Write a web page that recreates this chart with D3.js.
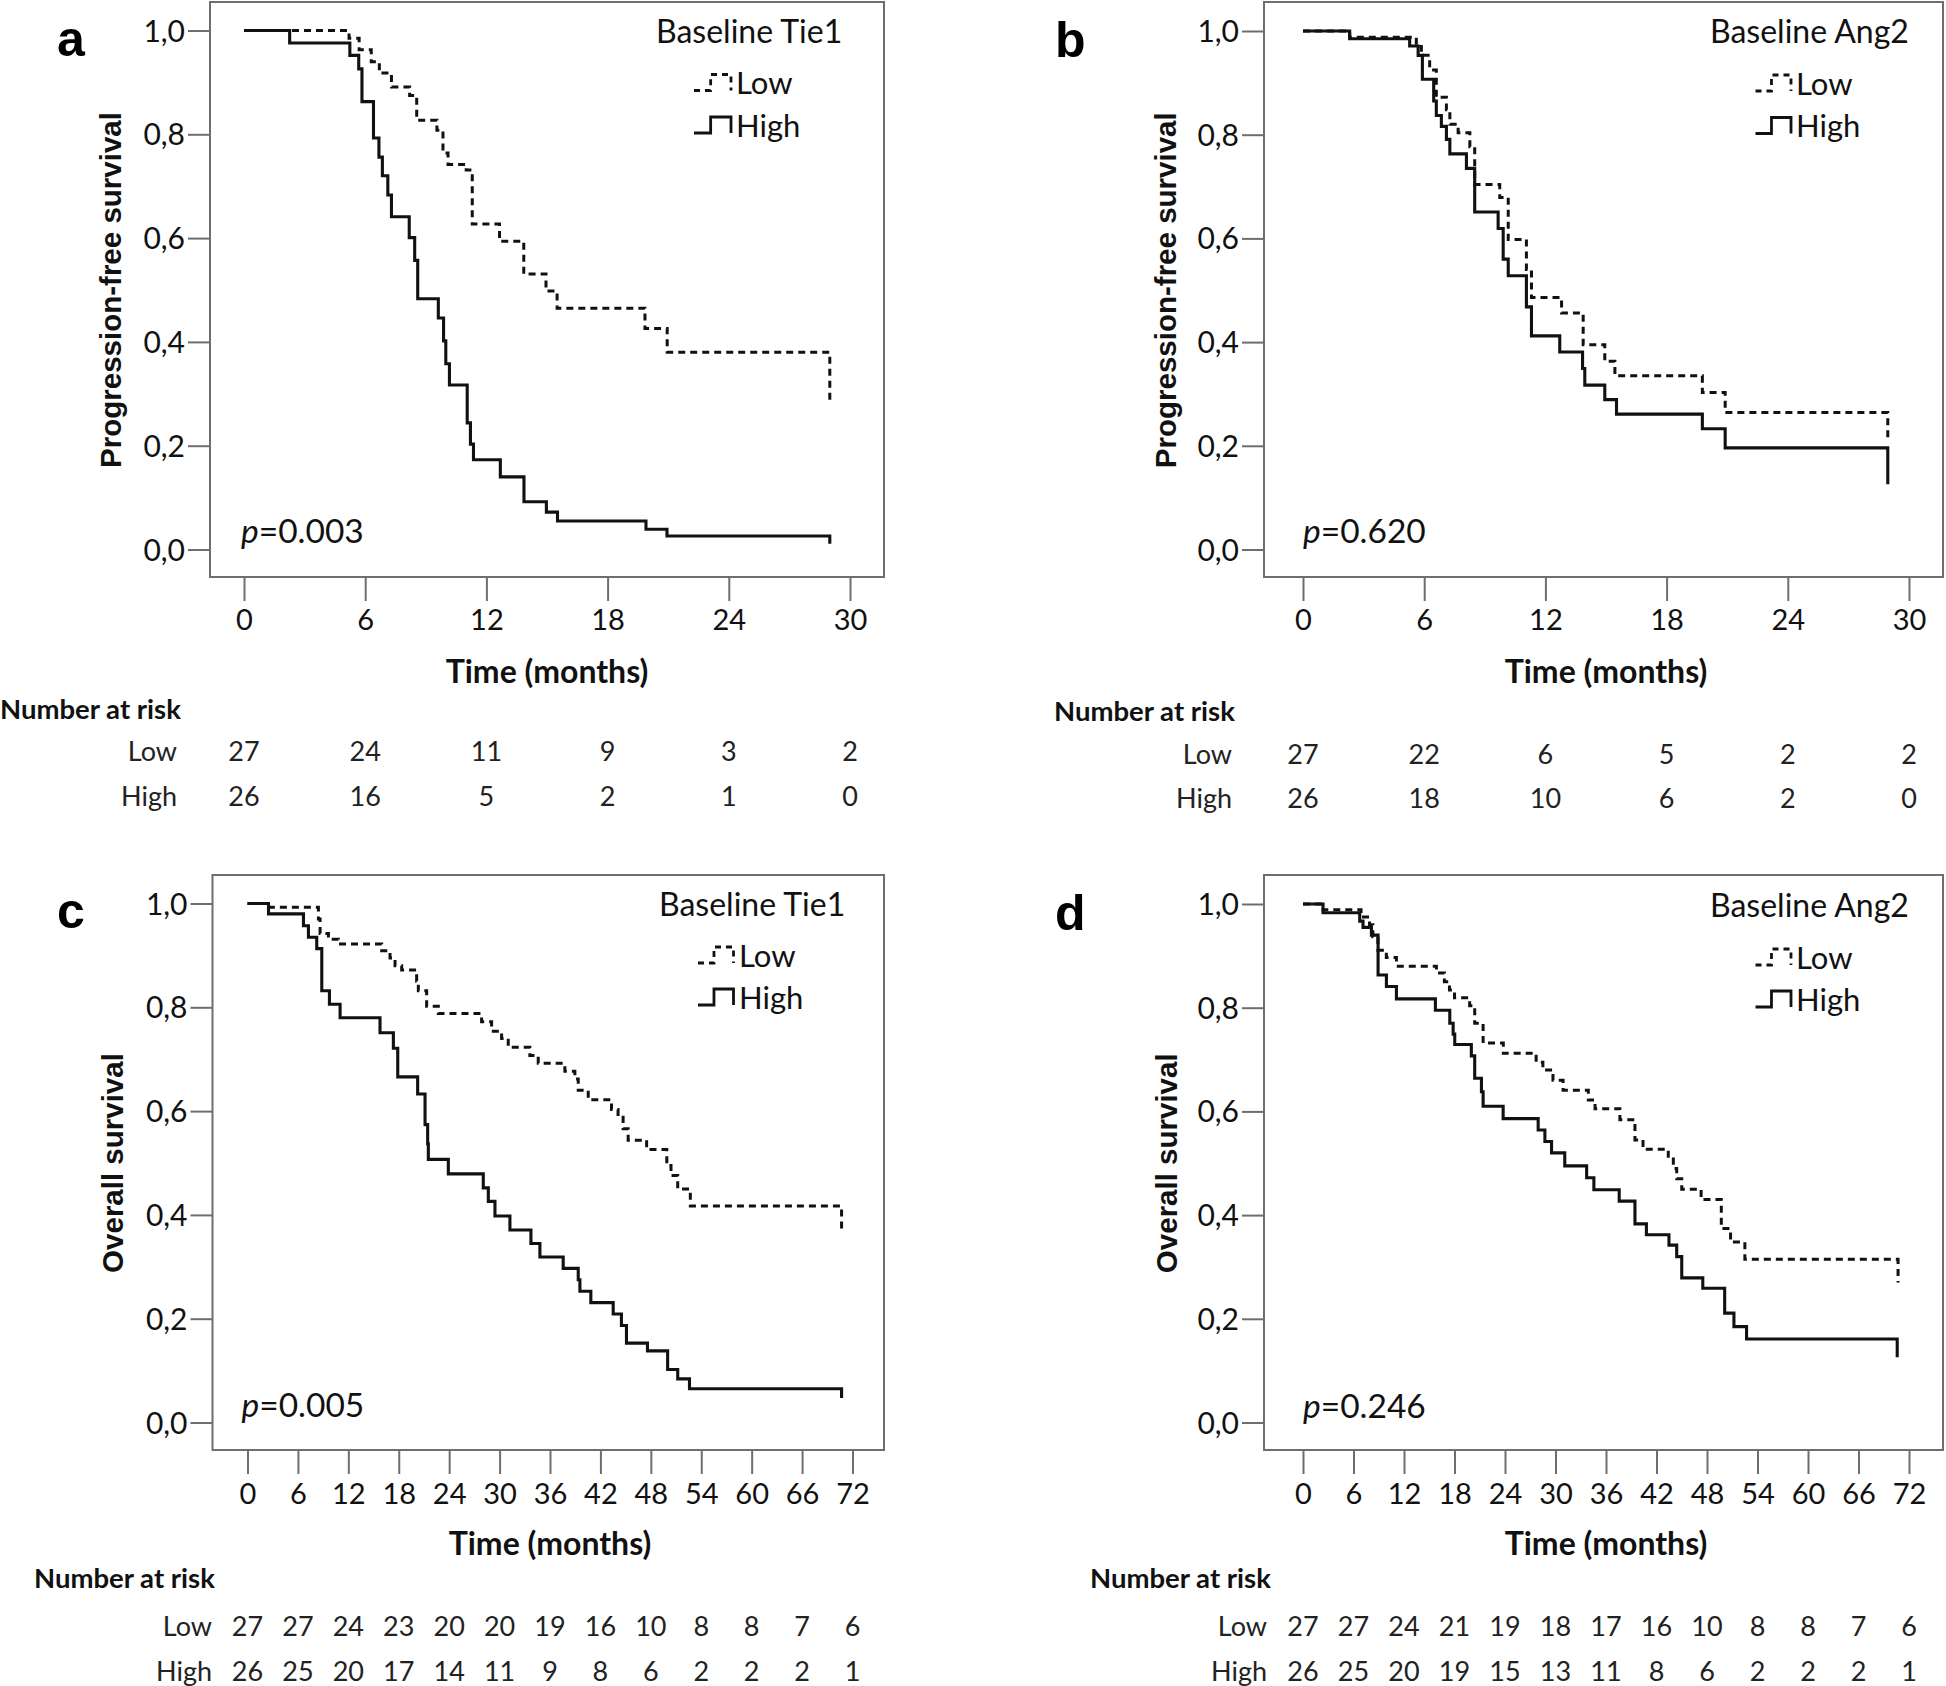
<!DOCTYPE html>
<html><head><meta charset="utf-8">
<script src="https://cdn.jsdelivr.net/npm/d3@7"></script>
<style>body{margin:0;background:#fff} svg{display:block}</style>
</head><body><svg id="chart" width="1946" height="1686"></svg>
<script>
// ---------- DATA ----------
const pfsTimeTicks = [0, 6, 12, 18, 24, 30];
const osTimeTicks = [0, 6, 12, 18, 24, 30, 36, 42, 48, 54, 60, 66, 72];
const survivalTicks = [0, 0.2, 0.4, 0.6, 0.8, 1.0];
const survivalTickLabels = ["0,0", "0,2", "0,4", "0,6", "0,8", "1,0"];
const groupNames = ["Low", "High"];
const panelLetters = ["a", "b", "c", "d"];
const markerNames = ["Baseline Tie1", "Baseline Ang2", "Baseline Tie1", "Baseline Ang2"];
const yTitles = ["Progression-free survival", "Progression-free survival", "Overall survival", "Overall survival"];
const pValues = ["0.003", "0.620", "0.005", "0.246"];

// Kaplan-Meier steps: [time (months), survival after the step]
const pfsTie1Low = [[0,1],[5.2,0.985],[5.7,0.963],[6.3,0.94],[6.7,0.918],[7.3,0.891],[8.2,0.875],[8.55,0.827],[9.55,0.808],[9.85,0.764],[10.1,0.742],[11.0,0.731],[11.3,0.627],[12.65,0.594],[13.85,0.531],[14.95,0.498],[15.5,0.465],[19.85,0.426],[20.95,0.38],[29.0,0.28]];
const pfsTie1High = [[0,1],[2.26,0.976],[5.24,0.952],[5.68,0.926],[5.84,0.863],[6.41,0.793],[6.68,0.756],[6.85,0.72],[7.12,0.683],[7.3,0.641],[8.18,0.601],[8.45,0.557],[8.6,0.483],[9.62,0.446],[9.88,0.402],[9.99,0.358],[10.17,0.317],[11.05,0.244],[11.21,0.203],[11.36,0.173],[12.69,0.14],[13.86,0.092],[14.97,0.072],[15.52,0.055],[19.9,0.039],[20.94,0.026],[29.0,0.011]];
const pfsAng2Low = [[0,1],[2.31,0.988],[5.61,0.97],[5.86,0.953],[6.27,0.925],[6.6,0.872],[7.1,0.848],[7.27,0.82],[7.68,0.804],[8.26,0.777],[8.5,0.704],[9.74,0.679],[10.16,0.598],[11.06,0.54],[11.31,0.486],[12.8,0.456],[13.87,0.395],[14.94,0.363],[15.44,0.335],[19.77,0.303],[20.9,0.264],[28.95,0.211]];
const pfsAng2High = [[0,1],[2.31,0.985],[5.28,0.971],[5.7,0.953],[5.91,0.907],[6.47,0.865],[6.6,0.837],[6.85,0.816],[7.1,0.791],[7.27,0.763],[8.09,0.735],[8.5,0.651],[9.66,0.619],[9.91,0.56],[10.16,0.528],[11.06,0.468],[11.31,0.412],[12.71,0.381],[13.84,0.349],[13.95,0.317],[14.94,0.289],[15.52,0.261],[19.77,0.233],[20.9,0.196],[28.95,0.126]];
const osTie1Low = [[0,1],[2.5,0.993],[8.44,0.97],[8.64,0.942],[9.63,0.931],[10.82,0.922],[15.97,0.909],[16.96,0.895],[17.56,0.88],[18.35,0.872],[20.13,0.85],[20.33,0.832],[21.32,0.802],[22.71,0.788],[27.86,0.772],[29.05,0.754],[30.24,0.74],[31.03,0.723],[33.6,0.707],[34.6,0.692],[37.77,0.677],[38.96,0.662],[39.36,0.64],[40.55,0.622],[43.32,0.603],[44.1,0.588],[44.7,0.566],[45.3,0.544],[47.5,0.526],[49.9,0.495],[50.4,0.476],[51.2,0.45],[52.7,0.417],[70.7,0.373]];
const osTie1High = [[0,1],[2.5,0.98],[6.66,0.957],[7.25,0.935],[8.24,0.913],[8.84,0.832],[9.75,0.806],[11.02,0.78],[15.77,0.751],[17.36,0.721],[17.88,0.666],[20.25,0.633],[21.13,0.574],[21.44,0.537],[21.52,0.507],[23.9,0.479],[28.06,0.452],[28.66,0.426],[29.45,0.398],[31.23,0.371],[33.73,0.345],[34.8,0.319],[37.57,0.297],[39.36,0.275],[39.56,0.253],[40.86,0.231],[43.52,0.209],[44.5,0.187],[45.1,0.153],[47.6,0.138],[50.0,0.102],[51.2,0.084],[52.6,0.065],[70.7,0.047]];
const osAng2Low = [[0,1],[2.38,0.989],[6.9,0.975],[7.9,0.96],[8.3,0.937],[8.9,0.911],[9.9,0.897],[11.1,0.88],[15.85,0.867],[16.8,0.85],[17.4,0.834],[18.0,0.819],[19.8,0.804],[20.4,0.77],[21.4,0.732],[23.8,0.712],[27.7,0.695],[28.5,0.68],[29.7,0.66],[30.9,0.641],[33.9,0.622],[34.7,0.605],[37.65,0.584],[39.44,0.545],[40.4,0.527],[43.4,0.508],[44.0,0.49],[44.4,0.47],[45.0,0.45],[47.3,0.43],[49.7,0.374],[50.8,0.348],[52.5,0.315],[70.7,0.27]];
const osAng2High = [[0,1],[2.38,0.983],[6.74,0.967],[7.13,0.955],[8.13,0.94],[8.92,0.863],[9.91,0.841],[11.1,0.817],[15.73,0.795],[17.44,0.77],[17.84,0.749],[18.03,0.729],[20.0,0.707],[20.4,0.664],[21.2,0.638],[21.4,0.61],[23.78,0.586],[27.94,0.564],[28.74,0.542],[29.53,0.52],[31.1,0.495],[33.7,0.472],[34.56,0.449],[37.57,0.427],[39.44,0.383],[40.8,0.362],[43.48,0.342],[44.4,0.32],[45.0,0.279],[47.5,0.259],[50.1,0.211],[51.2,0.185],[52.7,0.161],[70.6,0.126]];

// numbers at risk
const riskPfsTie1Low = [27, 24, 11, 9, 3, 2];
const riskPfsTie1High = [26, 16, 5, 2, 1, 0];
const riskPfsAng2Low = [27, 22, 6, 5, 2, 2];
const riskPfsAng2High = [26, 18, 10, 6, 2, 0];
const riskOsTie1Low = [27, 27, 24, 23, 20, 20, 19, 16, 10, 8, 8, 7, 6];
const riskOsTie1High = [26, 25, 20, 17, 14, 11, 9, 8, 6, 2, 2, 2, 1];
const riskOsAng2Low = [27, 27, 24, 21, 19, 18, 17, 16, 10, 8, 8, 7, 6];
const riskOsAng2High = [26, 25, 20, 19, 15, 13, 11, 8, 6, 2, 2, 2, 1];

// ---------- LAYOUT ----------
const FONT = "Lato, 'Open Sans', sans-serif";
const ARIAL = "'Liberation Sans', Arial, sans-serif";
const layouts = [
  {fx:210, fy:2, fw:674, fh:575, x0:244, x1:850, y0:549.5, y1:30.5, letterX:57, letterY:56, titleX:121,
   baseX:656, baseY:32, legSym:694, legSymR:731, legText:736, legLowY:83.5, legHighY:126,
   pX:241, pY:531, tickLabY:620, timeY:672, narX:0, narY:709, rowLabR:177, lowY:752, highY:797},
  {fx:1264, fy:2, fw:679, fh:575, x0:1303, x1:1909, y0:549.5, y1:31, letterX:1055, letterY:57, titleX:1176,
   baseX:1710, baseY:32, legSym:1755.5, legSymR:1791, legText:1796, legLowY:84, legHighY:126.5,
   pX:1303, pY:531, tickLabY:620, timeY:672, narX:1054, narY:711, rowLabR:1232, lowY:754.5, highY:799},
  {fx:212.5, fy:875, fw:671.5, fh:575, x0:247.5, x1:852.5, y0:1422.5, y1:903.5, letterX:57, letterY:928, titleX:123,
   baseX:659, baseY:905, legSym:698, legSymR:733.5, legText:739, legLowY:956, legHighY:998,
   pX:241.5, pY:1405, tickLabY:1494, timeY:1544, narX:34, narY:1578, rowLabR:212, lowY:1627, highY:1672},
  {fx:1264, fy:875, fw:679, fh:575, x0:1303, x1:1909, y0:1422.5, y1:904, letterX:1055, letterY:930, titleX:1177,
   baseX:1710, baseY:906, legSym:1755.5, legSymR:1791, legText:1796, legLowY:958, legHighY:1000,
   pX:1303, pY:1406, tickLabY:1494, timeY:1544, narX:1090, narY:1578, rowLabR:1267, lowY:1627, highY:1672}
];

const panels = [
  {low:pfsTie1Low, high:pfsTie1High, ticks:pfsTimeTicks, riskLow:riskPfsTie1Low, riskHigh:riskPfsTie1High},
  {low:pfsAng2Low, high:pfsAng2High, ticks:pfsTimeTicks, riskLow:riskPfsAng2Low, riskHigh:riskPfsAng2High},
  {low:osTie1Low, high:osTie1High, ticks:osTimeTicks, riskLow:riskOsTie1Low, riskHigh:riskOsTie1High},
  {low:osAng2Low, high:osAng2High, ticks:osTimeTicks, riskLow:riskOsAng2Low, riskHigh:riskOsAng2High}
];

const svg = d3.select("#chart");
svg.append("rect").attr("width",1946).attr("height",1686).attr("fill","#fff");

const FRAME = "#6e6e6e";
const DASH = "7,5";
const INK = "#111";

panels.forEach((p, i) => {
  const L = layouts[i];
  const g = svg.append("g");
  const xMax = p.ticks[p.ticks.length - 1];
  const x = d3.scaleLinear().domain([0, xMax]).range([L.x0, L.x1]);
  const y = d3.scaleLinear().domain([0, 1]).range([L.y0, L.y1]);

  // frame
  g.append("rect").attr("x", L.fx).attr("y", L.fy).attr("width", L.fw).attr("height", L.fh)
    .attr("fill", "none").attr("stroke", FRAME).attr("stroke-width", 2);

  // y axis
  const ya = g.append("g").attr("transform", `translate(${L.fx},0)`)
    .call(d3.axisLeft(y).tickValues(survivalTicks).tickSize(22).tickPadding(3)
      .tickFormat((d, k) => survivalTickLabels[k]));
  ya.select(".domain").remove();
  ya.selectAll(".tick line").attr("stroke", FRAME).attr("stroke-width", 2);
  ya.selectAll(".tick text").attr("font-family", FONT).attr("font-size", 30).attr("fill", INK)
    .attr("dy", "0.35em");

  // x axis
  const xa = g.append("g").attr("transform", `translate(0,${L.fy + L.fh})`)
    .call(d3.axisBottom(x).tickValues(p.ticks).tickSize(24).tickFormat(d3.format("d")));
  xa.select(".domain").remove();
  xa.selectAll(".tick line").attr("stroke", FRAME).attr("stroke-width", 2);
  xa.selectAll(".tick text").attr("font-family", FONT).attr("font-size", 29).attr("fill", INK)
    .attr("y", L.tickLabY - (L.fy + L.fh)).attr("dy", "0.35em");

  // curves
  const line = d3.line().x(d => x(d[0])).y(d => y(d[1])).curve(d3.curveStepAfter);
  g.append("path").datum(p.low).attr("d", line).attr("fill", "none").attr("stroke", INK)
    .attr("stroke-width", 3).attr("stroke-dasharray", DASH);
  g.append("path").datum(p.high).attr("d", line).attr("fill", "none").attr("stroke", INK)
    .attr("stroke-width", 3.1);

  // panel letter
  g.append("text").attr("x", L.letterX).attr("y", L.letterY).text(panelLetters[i])
    .attr("font-family", ARIAL).attr("font-weight", "bold").attr("font-size", 50).attr("fill", "#000");

  // y title
  g.append("text").attr("transform", `translate(${L.titleX},${(L.y0 + L.y1) / 2}) rotate(-90)`)
    .attr("text-anchor", "middle").text(yTitles[i])
    .attr("font-family", ARIAL).attr("font-weight", "bold").attr("font-size", 29.5).attr("fill", INK);

  // x title
  g.append("text").attr("x", (L.x0 + L.x1) / 2).attr("y", L.timeY).attr("dy", "0.35em")
    .attr("text-anchor", "middle").text("Time (months)")
    .attr("font-family", FONT).attr("font-weight", "bold").attr("font-size", 32).attr("fill", INK);

  // legend
  g.append("text").attr("x", L.baseX).attr("y", L.baseY).attr("dy", "0.35em").text(markerNames[i])
    .attr("font-family", FONT).attr("font-size", 32).attr("fill", INK);
  [[L.legLowY, true], [L.legHighY, false]].forEach(([cy, dashed], k) => {
    const mid = L.legSym + (L.legSymR - L.legSym) * 0.45;
    g.append("path")
      .attr("d", `M${L.legSym},${cy + 7}H${mid}V${cy - 9}H${L.legSymR}V${cy + 7}`)
      .attr("fill", "none").attr("stroke", INK).attr("stroke-width", 2.8)
      .attr("stroke-dasharray", dashed ? "6,5" : null);
    g.append("text").attr("x", L.legText).attr("y", cy).attr("dy", "0.35em").text(groupNames[k])
      .attr("font-family", FONT).attr("font-size", 31).attr("fill", INK);
  });

  // p value
  const pt = g.append("text").attr("x", L.pX).attr("y", L.pY).attr("dy", "0.35em")
    .attr("font-family", FONT).attr("font-size", 33.5).attr("fill", INK);
  pt.append("tspan").attr("font-style", "italic").text("p");
  pt.append("tspan").text("=" + pValues[i]);

  // number at risk
  g.append("text").attr("x", L.narX).attr("y", L.narY).attr("dy", "0.35em").text("Number at risk")
    .attr("font-family", FONT).attr("font-weight", "bold").attr("font-size", 27.5).attr("fill", INK);
  [[L.lowY, p.riskLow], [L.highY, p.riskHigh]].forEach(([ry, vals], k) => {
    g.append("text").attr("x", L.rowLabR).attr("y", ry).attr("dy", "0.35em").attr("text-anchor", "end")
      .text(groupNames[k]).attr("font-family", FONT).attr("font-size", 27).attr("fill", "#222");
    g.selectAll(null).data(vals).enter().append("text")
      .attr("x", (d, j) => x(p.ticks[j])).attr("y", ry).attr("dy", "0.35em").attr("text-anchor", "middle")
      .text(d => d).attr("font-family", FONT).attr("font-size", 27).attr("fill", "#222");
  });
});
</script>
</body></html>
